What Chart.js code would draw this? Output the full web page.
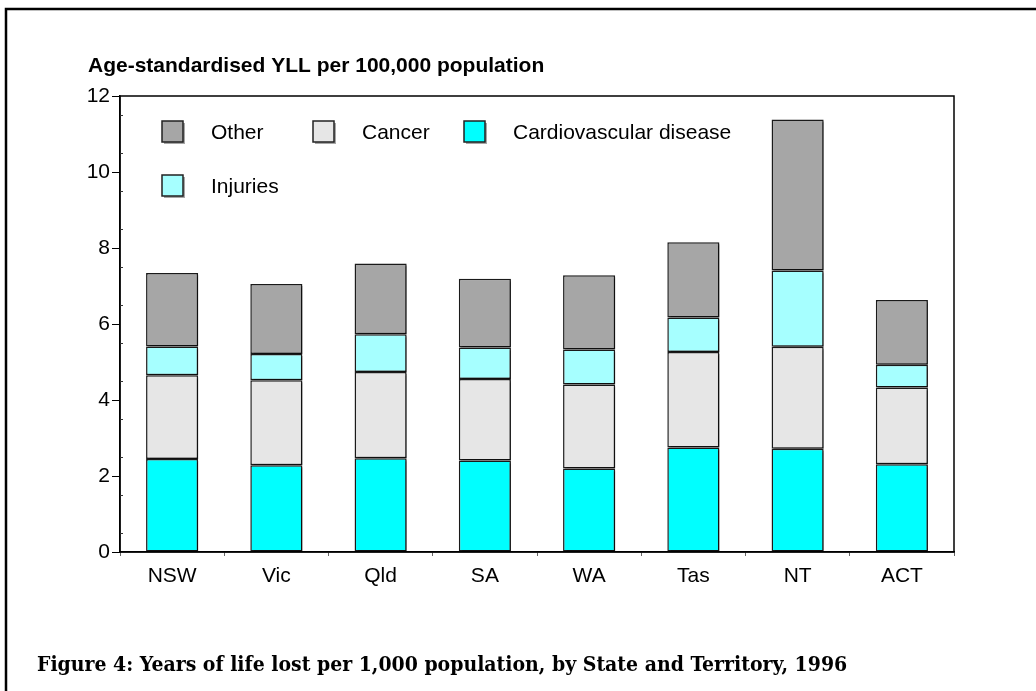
<!DOCTYPE html>
<html>
<head>
<meta charset="utf-8">
<script src="https://cdn.jsdelivr.net/npm/chart.js@4.4.1/dist/chart.umd.min.js"></script>
<style>
  html, body { margin: 0; padding: 0; background: #fff; }
  #wrap { position: relative; width: 1036px; height: 691px; }
</style>
</head>
<body>
<div id="wrap"><canvas id="chart" width="1036" height="691"></canvas></div>
<script>
// States and territories
const states = ['NSW', 'Vic', 'Qld', 'SA', 'WA', 'Tas', 'NT', 'ACT']

// Segment heights, bottom to top of each bar
const cardiovascular = [2.45, 2.28, 2.47, 2.41, 2.20, 2.75, 2.72, 2.31]
const cancer         = [2.20, 2.24, 2.27, 2.14, 2.21, 2.51, 2.68, 2.02]
const injuries       = [0.76, 0.69, 0.99, 0.83, 0.92, 0.91, 2.01, 0.60]
const other          = [1.93, 1.84, 1.86, 1.81, 1.95, 1.98, 3.97, 1.70]

const yTicks = [0, 2, 4, 6, 8, 10, 12]
const legendOrder = ['Other', 'Cancer', 'Cardiovascular disease', 'Injuries']

const axisTitle = 'Age-standardised YLL per 100,000 population'
const caption = 'Figure 4: Years of life lost per 1,000 population, by State and Territory, 1996'

const sans = "Arial, 'Liberation Sans', sans-serif"
const serif = "'DejaVu Serif Condensed', 'DejaVu Serif', 'Liberation Serif', serif"

// Page frame, titles, plot box, minor ticks and the legend inside the plot
const decorations = {
    id: 'decorations',
    beforeDraw(chart) {
        const ctx = chart.ctx
        ctx.save()
        ctx.strokeStyle = '#000'
        ctx.lineWidth = 2.5
        ctx.beginPath()
        ctx.moveTo(6, 700)
        ctx.lineTo(6, 9)
        ctx.lineTo(1040, 9)
        ctx.stroke()
        ctx.restore()
    },
    beforeDatasetsDraw(chart) {
        const ctx = chart.ctx
        ctx.save()
        ctx.shadowColor = 'rgba(0,0,0,0.4)'
        ctx.shadowOffsetX = 2
        ctx.shadowOffsetY = 2
        ctx.shadowBlur = 0
    },
    afterDatasetsDraw(chart) {
        chart.ctx.restore()
    },
    afterDraw(chart) {
        const ctx = chart.ctx
        const area = chart.chartArea
        const y = chart.scales.y
        ctx.save()

        // plot box
        ctx.strokeStyle = '#000'
        ctx.lineWidth = 1.5
        ctx.strokeRect(area.left, area.top, area.right - area.left, area.bottom - area.top)

        // minor ticks every 0.5
        ctx.lineWidth = 1
        ctx.strokeStyle = '#333'
        for (let v = 0.5; v < 12; v += 1) {
            const py = Math.round(y.getPixelForValue(v)) + 0.5
            ctx.beginPath()
            ctx.moveTo(area.left, py)
            ctx.lineTo(area.left + 3, py)
            ctx.stroke()
        }

        // axis title
        ctx.fillStyle = '#000'
        ctx.font = 'bold 21px ' + sans
        ctx.textBaseline = 'middle'
        ctx.textAlign = 'left'
        ctx.fillText(axisTitle, 88, 66)

        // caption, sized to the width it has in the original
        let size = 20
        ctx.font = 'bold ' + size + 'px ' + serif
        size = Math.min(21, size * 820 / ctx.measureText(caption).width)
        ctx.font = 'bold ' + size.toFixed(1) + 'px ' + serif
        ctx.fillText(caption, 37, 666)

        // legend
        const boxX = [162, 313, 464]
        const rowY = [121, 175]
        ctx.font = '21px ' + sans
        legendOrder.forEach((label, i) => {
            const ds = chart.data.datasets.find(d => d.label === label)
            const col = i % 3
            const row = Math.floor(i / 3)
            const bx = boxX[col]
            const by = rowY[row]
            ctx.fillStyle = 'rgba(0,0,0,0.35)'
            ctx.fillRect(bx + 2, by + 2, 21, 21)
            ctx.fillStyle = ds.backgroundColor
            ctx.fillRect(bx, by, 21, 21)
            ctx.strokeStyle = '#222'
            ctx.lineWidth = 1.5
            ctx.strokeRect(bx, by, 21, 21)
            ctx.fillStyle = '#000'
            ctx.fillText(label, bx + 49, by + 12)
        })
        ctx.restore()
    }
}

function segment(label, data, color) {
    return {
        label: label,
        data: data,
        backgroundColor: color,
        borderColor: '#1a1a1a',
        borderWidth: 1.5,
        borderSkipped: false,
        barPercentage: 0.5,
        categoryPercentage: 1.0
    }
}

new Chart(document.getElementById('chart'), {
    type: 'bar',
    data: {
        labels: states,
        datasets: [
            segment('Cardiovascular disease', cardiovascular, '#00ffff'),
            segment('Cancer', cancer, '#e6e6e6'),
            segment('Injuries', injuries, '#a6ffff'),
            segment('Other', other, '#a6a6a6')
        ]
    },
    options: {
        responsive: false,
        animation: false,
        layout: {
            padding: { left: 70, right: 82, top: 96, bottom: 99 }
        },
        plugins: {
            legend: { display: false },
            tooltip: { enabled: false }
        },
        scales: {
            x: {
                stacked: true,
                afterFit(scale) { scale.height = 40 },
                border: { display: true, color: '#000', width: 1.5 },
                grid: {
                    offset: true,
                    drawOnChartArea: false,
                    drawTicks: true,
                    tickLength: 4,
                    color: '#666'
                },
                ticks: {
                    color: '#000',
                    padding: 8,
                    font: { family: sans, size: 21 }
                }
            },
            y: {
                stacked: true,
                min: 0,
                max: 12,
                afterFit(scale) { scale.width = 50 },
                afterBuildTicks(scale) {
                    scale.ticks = yTicks.map(v => ({ value: v }))
                },
                border: { display: true, color: '#000', width: 1.5 },
                grid: {
                    drawOnChartArea: false,
                    drawTicks: true,
                    tickLength: 8,
                    color: '#000'
                },
                ticks: {
                    color: '#000',
                    padding: 2,
                    font: { family: sans, size: 21 }
                }
            }
        }
    },
    plugins: [decorations]
})
</script>
</body>
</html>
